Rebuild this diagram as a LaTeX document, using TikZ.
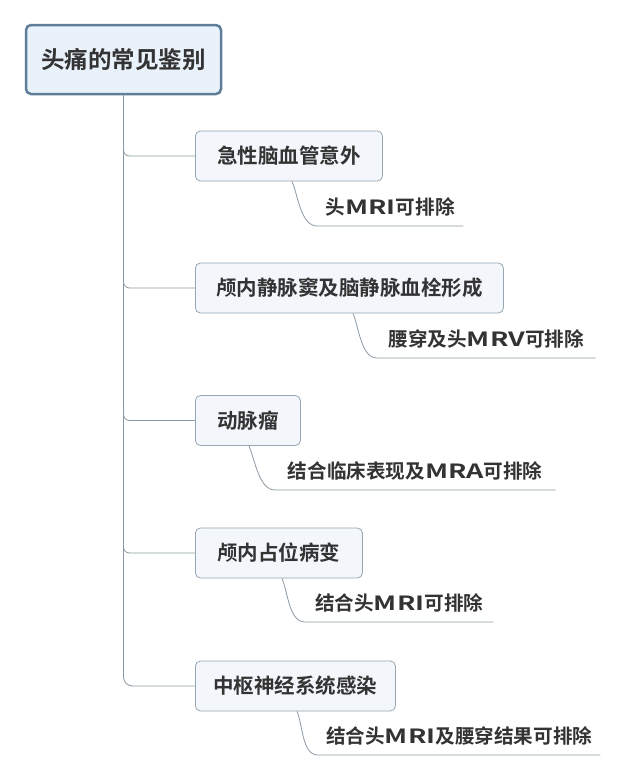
\documentclass[tikz,border=0pt]{standalone}
\usepackage{fontspec}
\newfontfamily\cjk{Noto Sans CJK SC}[BoldFont={Noto Sans CJK SC Bold}]
\newfontfamily\cjklat{Noto Sans CJK SC}[BoldFont={Noto Sans CJK SC Bold},BoldFeatures={FakeStretch=1.38}]
\newcommand\lat[1]{{\cjklat\bfseries #1}}
\usetikzlibrary{calc}
\definecolor{rootfill}{HTML}{E9F2FA}
\definecolor{rootdraw}{HTML}{5E7E9A}
\definecolor{boxfill}{HTML}{F3F7FB}
\definecolor{boxdraw}{HTML}{98A6B3}
\definecolor{linec}{HTML}{8D99A4}
\definecolor{txt}{HTML}{333333}
\tikzset{
  rootbox/.style={draw=rootdraw, fill=rootfill, line width=2.5pt, rounded corners=5pt,
    minimum width=195pt, minimum height=69pt, inner sep=0pt,
    font=\cjk\bfseries\fontsize{23.5}{28}\selectfont, text=txt},
  topic/.style={draw=boxdraw, fill=boxfill, line width=0.8pt, rounded corners=5pt,
    minimum height=50pt, inner sep=0pt, anchor=west,
    font=\cjk\bfseries\fontsize{20.5}{24}\selectfont, text=txt},
  sublabel/.style={minimum height=38pt, inner sep=0pt, anchor=south west,
    font=\cjk\bfseries\fontsize{19.6}{23}\selectfont, text=txt},
  conn/.style={draw=linec, line width=0.8pt},
}
\begin{document}
\begin{tikzpicture}[x=1pt,y=-1pt]
\useasboundingbox (0,0) rectangle (640,779);
\fill[white] (0,0) rectangle (640,779);

\node[rootbox] (root) at (123.5,59.5) {头痛的常见鉴别};

\node[topic, minimum width=187pt] (b1) at (195,156) {急性脑血管意外};
\node[topic, minimum width=308pt] (b2) at (195,288) {颅内静脉窦及脑静脉血栓形成};
\node[topic, minimum width=105pt] (b3) at (195,420.5) {动脉瘤};
\node[topic, minimum width=167pt] (b4) at (195,553) {颅内占位病变};
\node[topic, minimum width=200pt] (b5) at (195,686) {中枢神经系统感染};

\node[sublabel, minimum width=146pt] (s1) at (317,226) {头\lat{MRI}可排除};
\node[sublabel, minimum width=218pt] (s2) at (377,358) {腰穿及头\lat{MRV}可排除};
\node[sublabel, minimum width=280pt] (s3) at (275,490) {结合临床表现及\lat{MRA}可排除};
\node[sublabel, minimum width=188pt] (s4) at (305,622) {结合头\lat{MRI}可排除};
\node[sublabel, minimum width=282pt] (s5) at (318,755) {结合头\lat{MRI}及腰穿结果可排除};

\foreach \b in {b1,b2,b3,b4}
  \draw[conn, rounded corners=6pt] (root.south) |- (\b.west);
\draw[conn, rounded corners=9pt] (root.south) |- (b5.west);

\draw[conn] ($(b1.south west)+(97,0)$) .. controls +(6,14) and +(-16,0) .. (s1.south west) -- (s1.south east);
\draw[conn] ($(b2.south west)+(158,0)$) .. controls +(6,14) and +(-16,0) .. (s2.south west) -- (s2.south east);
\draw[conn] ($(b3.south west)+(54,0)$) .. controls +(6,14) and +(-16,0) .. (s3.south west) -- (s3.south east);
\draw[conn] ($(b4.south west)+(87,0)$) .. controls +(6,14) and +(-16,0) .. (s4.south west) -- (s4.south east);
\draw[conn] ($(b5.south west)+(102,0)$) .. controls +(6,14) and +(-16,0) .. (s5.south west) -- (s5.south east);
\end{tikzpicture}
\end{document}
